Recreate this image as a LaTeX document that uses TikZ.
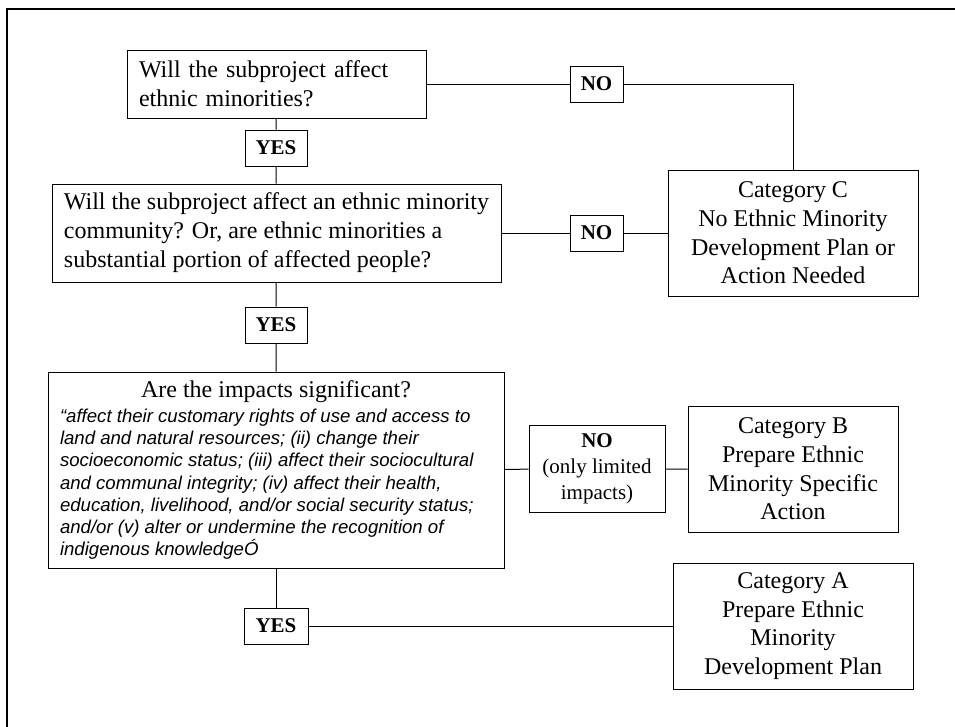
\documentclass[tikz,border=0pt]{standalone}
\usepackage{fontspec}
\setmainfont{Liberation Serif}
\newfontfamily\quotefont{Liberation Sans}
\usepackage{tikz}

\begin{document}
\begin{tikzpicture}[x=1pt,y=-1pt,
    box/.style={draw=black, line width=1pt, inner sep=0pt, font=\fontsize{24}{29}\selectfont},
    qbox/.style={box, align=left, inner xsep=12pt},
    catbox/.style={box, align=center, font=\fontsize{24}{28.7}\selectfont},
    tag/.style={draw=black, line width=1pt, inner sep=0pt, align=center, font=\fontsize{21}{26}\selectfont\bfseries},
    link/.style={draw=black, line width=1pt}]
    \clip (0,0) rectangle (955,726);
    \draw [line width=2pt] (7,9) rectangle (980,750);
    \node [qbox, text width=275, minimum height=68] (q1) at (276.5,84) {Will the subproject affect\\ethnic minorities?};
    \node [qbox, inner xsep=0pt, minimum width=449, minimum height=98] (q2) at (276.5,233) {Will the subproject affect an ethnic minority\\community? Or, are ethnic minorities a\\substantial portion of affected people?};
    \node [box, minimum width=456, minimum height=196] (impact) at (276,470) {\begin{minipage}{432pt}
        \centering Are the impacts significant?\par
        \vspace{3pt}\raggedright\quotefont\itshape\fontsize{18.6}{22.2}\selectfont
        “affect their customary rights of use and access to\\
        land and natural resources; (ii) change their\\
        socioeconomic status; (iii) affect their sociocultural\\
        and communal integrity; (iv) affect their health,\\
        education, livelihood, and/or social security status;\\
        and/or (v) alter or undermine the recognition of\\
        indigenous knowledgeÓ\par
        \end{minipage}};
    \node [tag, minimum width=62, minimum height=36] (yes1) at (276,148) {YES};
    \node [tag, minimum width=62, minimum height=36] (yes2) at (276,325) {YES};
    \node [tag, minimum width=64, minimum height=36] (yes3) at (276,626) {YES};
    \node [tag, minimum width=53, minimum height=36] (no1) at (596.5,84) {NO};
    \node [tag, minimum width=53, minimum height=36] (no2) at (596.5,233) {NO};
    \node [tag, font=\fontsize{21}{26}\selectfont, minimum width=136, minimum height=87] (no3) at (597,469) {\textbf{NO}\\(only limited\\impacts)};
    \node [catbox, minimum width=250, minimum height=126] (catC) at (793,233) {Category C\\No Ethnic Minority\\Development Plan or\\Action Needed};
    \node [catbox, minimum width=210, minimum height=126] (catB) at (793,469) {Category B\\Prepare Ethnic\\Minority Specific\\Action};
    \node [catbox, minimum width=240, minimum height=126] (catA) at (793,626) {Category A\\Prepare Ethnic\\Minority\\Development Plan};
    \draw [link] (q1) -- (no1);
    \draw [link] (no1) -| (catC);
    \draw [link] (q1) -- (yes1) -- (q2);
    \draw [link] (q2) -- (no2) -- (catC);
    \draw [link] (q2) -- (yes2) -- (impact);
    \draw [link] (impact) -- (no3) -- (catB);
    \draw [link] (impact) -- (yes3);
    \draw [link] (yes3) -- (catA);
\end{tikzpicture}
\end{document}
